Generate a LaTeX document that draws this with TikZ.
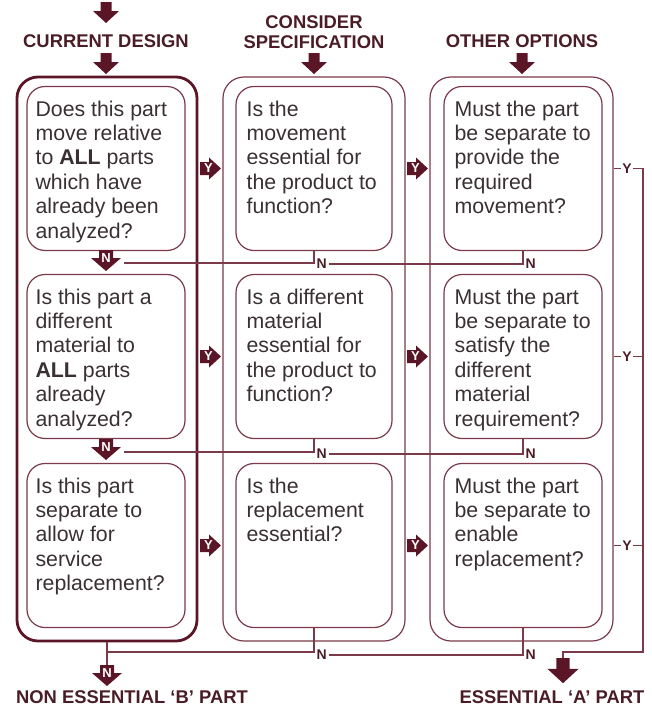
\documentclass[tikz,border=0pt]{standalone}
\usepackage{fontspec}
\setmainfont{Liberation Sans}
\usetikzlibrary{calc}

\definecolor{arrclr}{HTML}{5A1626}
\definecolor{lineclr}{HTML}{7A3A4A}
\definecolor{txtclr}{HTML}{3A3034}
\definecolor{headclr}{HTML}{4A1C26}

\tikzset{
  qbox/.style={draw=lineclr, line width=1.2pt, rounded corners=18pt, minimum width=158pt, minimum height=164pt, inner sep=0},
  obox/.style={draw=lineclr, line width=1.2pt, rounded corners=21pt, minimum height=564pt, inner sep=0},
  qtext/.style={anchor=north west, align=left, inner sep=0, text=txtclr, font=\fontsize{21.3}{24.4}\selectfont},
  head/.style={text=headclr, font=\fontsize{18.4}{20}\selectfont\bfseries, align=center, inner sep=0},
  conn/.style={draw=lineclr, line width=1.1pt},
  nlab/.style={text=headclr, font=\fontsize{14}{14}\selectfont\bfseries, inner sep=1.5pt},
  tag/.style={text=white, font=\fontsize{13}{13}\selectfont\bfseries, inner sep=0},
  darr/.pic={
    \fill[arrclr] (-5.5,0) -- (5.5,0) -- (5.5,9) -- (13,9) -- (0,21) -- (-13,9) -- (-5.5,9) -- cycle;
    \coordinate (-top) at (0,0);},
  narr/.pic={
    \fill[arrclr] (-7,0) -- (7,0) -- (7,8) -- (15,8) -- (0,21) -- (-15,8) -- (-7,8) -- cycle;
    \node[tag] (-txt) at (0,8.5) {N};
    \coordinate (-top) at (0,0);
    \coordinate (-end) at (18,13);},
  yarr/.pic={
    \fill[arrclr] (0,-6.5) -- (9,-6.5) -- (9,-11) -- (21,0) -- (9,11) -- (9,6.5) -- (0,6.5) -- cycle;
    \node[tag] (-txt) at (8.5,0) {Y};},
}

\begin{document}
\begin{tikzpicture}[x=1pt, y=-1pt]
\useasboundingbox (0,0) rectangle (652,710);

% headings
\pic at (106,2) {darr};
\node[head, anchor=north] (hcur) at (106,34.4) {CURRENT DESIGN};
\node[head, anchor=north] (hspec) at (314,15.4) {CONSIDER\\SPECIFICATION};
\node[head, anchor=north] (hopt) at (522,34.4) {OTHER OPTIONS};
\pic at (106,53) {darr};
\pic at (314,53) {darr};
\pic at (522,53) {darr};

% columns
\node[obox, minimum width=180pt, line width=2.8pt, draw=arrclr] (o1) at (107,359) {};
\node[obox, minimum width=182pt] (o2) at (314,359) {};
\node[obox, minimum width=183pt] (o3) at (521.5,359) {};

\foreach \r/\yy in {1/168.5, 2/356.5, 3/545.5} {
  \node[qbox] (b1\r) at (106,\yy) {};
  \node[qbox, minimum width=156pt] (b2\r) at (314,\yy) {};
  \node[qbox] (b3\r) at (523,\yy) {};
  \pic (ya\r) at (200,\yy) {yarr};
  \pic (yb\r) at (407,\yy) {yarr};
}

% questions
\node[qtext] (t11) at ([shift={(9,14.5)}]b11.north west) {Does this part\\move relative\\to \textbf{ALL} parts\\which have\\already been\\analyzed?};
\node[qtext] (t12) at ([shift={(9,14.5)}]b12.north west) {Is this part a\\different\\material to\\\textbf{ALL} parts\\already\\analyzed?};
\node[qtext] (t13) at ([shift={(9,14.5)}]b13.north west) {Is this part\\separate to\\allow for\\service\\replacement?};
\node[qtext] (t21) at ([shift={(11,14.5)}]b21.north west) {Is the\\movement\\essential for\\the product to\\function?};
\node[qtext] (t22) at ([shift={(11,14.5)}]b22.north west) {Is a different\\material\\essential for\\the product to\\function?};
\node[qtext] (t23) at ([shift={(11,14.5)}]b23.north west) {Is the\\replacement\\essential?};
\node[qtext] (t31) at ([shift={(11,14.5)}]b31.north west) {Must the part\\be separate to\\provide the\\required\\movement?};
\node[qtext] (t32) at ([shift={(11,14.5)}]b32.north west) {Must the part\\be separate to\\satisfy the\\different\\material\\requirement?};
\node[qtext] (t33) at ([shift={(11,14.5)}]b33.north west) {Must the part\\be separate to\\enable\\replacement?};

% no paths
\pic (na1) at (106,250) {narr};
\pic (na2) at (106,439) {narr};
\node[nlab, anchor=west] (nl1) at (315,264) {N};
\node[nlab, anchor=west] (nm1) at (524,264) {N};
\node[nlab, anchor=west] (nl2) at (315,454) {N};
\node[nlab, anchor=west] (nm2) at (524,454) {N};
\draw[conn] (b21.south) |- (na1-end);
\draw[conn] (b31.south) |- (nl1.east);
\draw[conn] (b22.south) |- (na2-end);
\draw[conn] (b32.south) |- (nl2.east);

\coordinate (jb) at (107,652);
\pic (nb) at (107,665) {narr};
\node[nlab, anchor=west] (nl3) at (315,655) {N};
\node[nlab, anchor=west] (nm3) at (524,655) {N};
\draw[conn] (o1.south) -- (nb-top);
\draw[conn] (b23.south) |- (jb);
\draw[conn] (b33.south) |- (nl3.east);

% yes paths
\node[nlab] (yl1) at (627,168.5) {Y};
\node[nlab] (yl2) at (627,356.5) {Y};
\node[nlab] (yl3) at (627,545.5) {Y};
\coordinate (yr1) at (643,168.5);
\coordinate (yr4) at (643,652);
\pic[scale=1.2] (ea) at (563,658) {darr};
\draw[conn] (o3.east |- yl1.west) -- (yl1.west);
\draw[conn] (o3.east |- yl2.west) -- (yl2.west);
\draw[conn] (o3.east |- yl3.west) -- (yl3.west);
\draw[conn] (yl1.east) -- (yr1) -- (yr4) -| (ea-top);
\draw[conn] (yl2.east) -- (yl2.east -| yr1);
\draw[conn] (yl3.east) -- (yl3.east -| yr1);

% results
\node[head, anchor=base] (nonb) at (132,703.6) {NON ESSENTIAL ‘B’ PART};
\node[head, anchor=base] (essa) at (552,703.6) {ESSENTIAL ‘A’ PART};

\end{tikzpicture}
\end{document}
